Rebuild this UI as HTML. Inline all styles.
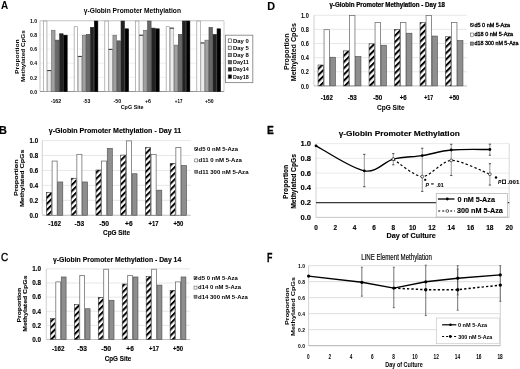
<!DOCTYPE html>
<html><head><meta charset="utf-8"><style>
html,body{margin:0;padding:0;background:#fff;}
body{width:520px;height:369px;overflow:hidden;}
svg{display:block;font-family:"Liberation Sans", sans-serif;filter:blur(0.35px);}
</style></head><body>
<svg width="520" height="369" viewBox="0 0 520 369">
<rect width="520" height="369" fill="#fff"/>
<defs>
<pattern id="hB" patternUnits="userSpaceOnUse" width="4.30" height="4.30" patternTransform="rotate(45)"><rect width="4.30" height="4.30" fill="#fff"/><rect x="0" y="0" width="2.00" height="4.30" fill="#000"/></pattern>
<pattern id="hC" patternUnits="userSpaceOnUse" width="4.30" height="4.30" patternTransform="rotate(45)"><rect width="4.30" height="4.30" fill="#fff"/><rect x="0" y="0" width="2.00" height="4.30" fill="#000"/></pattern>
<pattern id="hD" patternUnits="userSpaceOnUse" width="4.40" height="4.40" patternTransform="rotate(45)"><rect width="4.40" height="4.40" fill="#fff"/><rect x="0" y="0" width="2.05" height="4.40" fill="#000"/></pattern>
<pattern id="hL" patternUnits="userSpaceOnUse" width="2.20" height="2.20" patternTransform="rotate(45)"><rect width="2.20" height="2.20" fill="#fff"/><rect x="0" y="0" width="1.20" height="2.20" fill="#000"/></pattern>
</defs>
<text x="1.00" y="9.20" font-size="10" font-weight="bold" font-style="normal" fill="#000" textLength="7.20" lengthAdjust="spacingAndGlyphs" >A</text>
<text x="83.80" y="12.90" font-size="6.7" font-weight="bold" font-style="normal" fill="#000" textLength="97.20" lengthAdjust="spacingAndGlyphs" >γ-Globin Promoter Methylation</text>
<line x1="40.00" y1="77.35" x2="224.00" y2="77.35" stroke="#e6e6e6" stroke-width="0.6" />
<line x1="40.00" y1="63.20" x2="224.00" y2="63.20" stroke="#e6e6e6" stroke-width="0.6" />
<line x1="40.00" y1="49.05" x2="224.00" y2="49.05" stroke="#e6e6e6" stroke-width="0.6" />
<line x1="40.00" y1="34.90" x2="224.00" y2="34.90" stroke="#e6e6e6" stroke-width="0.6" />
<line x1="40.00" y1="20.75" x2="224.00" y2="20.75" stroke="#bdbdbd" stroke-width="0.9" />
<line x1="40.00" y1="20.75" x2="40.00" y2="91.50" stroke="#bdbdbd" stroke-width="0.9" />
<line x1="224.00" y1="20.75" x2="224.00" y2="91.50" stroke="#c8c8c8" stroke-width="0.9" />
<line x1="40.00" y1="91.50" x2="224.00" y2="91.50" stroke="#888" stroke-width="0.9" />
<text x="29.90" y="93.70" font-size="6.0" font-weight="bold" font-style="normal" fill="#000" textLength="7.10" lengthAdjust="spacingAndGlyphs" >0.0</text>
<text x="29.90" y="79.55" font-size="6.0" font-weight="bold" font-style="normal" fill="#000" textLength="7.10" lengthAdjust="spacingAndGlyphs" >0.2</text>
<text x="29.90" y="65.40" font-size="6.0" font-weight="bold" font-style="normal" fill="#000" textLength="7.10" lengthAdjust="spacingAndGlyphs" >0.4</text>
<text x="29.90" y="51.25" font-size="6.0" font-weight="bold" font-style="normal" fill="#000" textLength="7.10" lengthAdjust="spacingAndGlyphs" >0.6</text>
<text x="29.90" y="37.10" font-size="6.0" font-weight="bold" font-style="normal" fill="#000" textLength="7.10" lengthAdjust="spacingAndGlyphs" >0.8</text>
<text x="29.90" y="22.95" font-size="6.0" font-weight="bold" font-style="normal" fill="#000" textLength="7.10" lengthAdjust="spacingAndGlyphs" >1.0</text>
<text transform="translate(19.39,73.90) rotate(-90)" x="0" y="0" font-size="5.8" font-weight="bold" fill="#000" textLength="34.60" lengthAdjust="spacingAndGlyphs">Proportion</text>
<text transform="translate(24.69,82.00) rotate(-90)" x="0" y="0" font-size="5.8" font-weight="bold" fill="#000" textLength="51.80" lengthAdjust="spacingAndGlyphs">Methylated CpGs</text>
<rect x="43.48" y="21.05" width="3.45" height="70.45" fill="#ffffff" stroke="#8a8a8a" stroke-width="0.6" />
<rect x="47.53" y="70.58" width="3.45" height="20.92" fill="#ececec" stroke="#9a9a9a" stroke-width="0.6" />
<line x1="47.23" y1="70.58" x2="51.28" y2="70.58" stroke="#222" stroke-width="0.9" />
<rect x="51.58" y="30.25" width="3.45" height="61.25" fill="#a0a0a0" stroke="#666" stroke-width="0.6" />
<rect x="55.63" y="40.15" width="3.45" height="51.35" fill="#686868" stroke="#444" stroke-width="0.6" />
<rect x="59.68" y="33.79" width="3.45" height="57.71" fill="#222222" stroke="#222" stroke-width="0.6" />
<rect x="63.73" y="35.20" width="3.45" height="56.30" fill="#000000" stroke="#000" stroke-width="0.6" />
<text x="50.68" y="102.50" font-size="6.0" font-weight="bold" font-style="normal" fill="#000" textLength="10.50" lengthAdjust="spacingAndGlyphs" >-162</text>
<rect x="74.15" y="26.71" width="3.45" height="64.79" fill="#ffffff" stroke="#8a8a8a" stroke-width="0.6" />
<rect x="78.20" y="56.42" width="3.45" height="35.08" fill="#ececec" stroke="#9a9a9a" stroke-width="0.6" />
<line x1="77.90" y1="56.42" x2="81.95" y2="56.42" stroke="#222" stroke-width="0.9" />
<rect x="82.25" y="35.20" width="3.45" height="56.30" fill="#a0a0a0" stroke="#666" stroke-width="0.6" />
<rect x="86.30" y="34.49" width="3.45" height="57.01" fill="#686868" stroke="#444" stroke-width="0.6" />
<rect x="90.35" y="27.42" width="3.45" height="64.08" fill="#222222" stroke="#222" stroke-width="0.6" />
<rect x="94.40" y="21.05" width="3.45" height="70.45" fill="#000000" stroke="#000" stroke-width="0.6" />
<text x="82.90" y="102.50" font-size="6.0" font-weight="bold" font-style="normal" fill="#000" textLength="7.40" lengthAdjust="spacingAndGlyphs" >-53</text>
<rect x="104.82" y="21.05" width="3.45" height="70.45" fill="#ffffff" stroke="#8a8a8a" stroke-width="0.6" />
<rect x="108.87" y="49.35" width="3.45" height="42.15" fill="#ececec" stroke="#9a9a9a" stroke-width="0.6" />
<line x1="108.57" y1="49.35" x2="112.62" y2="49.35" stroke="#222" stroke-width="0.9" />
<rect x="112.92" y="35.20" width="3.45" height="56.30" fill="#a0a0a0" stroke="#666" stroke-width="0.6" />
<rect x="116.97" y="40.86" width="3.45" height="50.64" fill="#686868" stroke="#444" stroke-width="0.6" />
<rect x="121.02" y="21.05" width="3.45" height="70.45" fill="#222222" stroke="#222" stroke-width="0.6" />
<rect x="125.07" y="28.83" width="3.45" height="62.67" fill="#000000" stroke="#000" stroke-width="0.6" />
<text x="113.47" y="102.50" font-size="6.0" font-weight="bold" font-style="normal" fill="#000" textLength="7.60" lengthAdjust="spacingAndGlyphs" >-50</text>
<rect x="135.48" y="21.05" width="3.45" height="70.45" fill="#ffffff" stroke="#8a8a8a" stroke-width="0.6" />
<rect x="139.53" y="35.20" width="3.45" height="56.30" fill="#ececec" stroke="#9a9a9a" stroke-width="0.6" />
<line x1="139.23" y1="35.20" x2="143.28" y2="35.20" stroke="#222" stroke-width="0.9" />
<rect x="143.58" y="30.25" width="3.45" height="61.25" fill="#a0a0a0" stroke="#666" stroke-width="0.6" />
<rect x="147.63" y="21.05" width="3.45" height="70.45" fill="#686868" stroke="#444" stroke-width="0.6" />
<rect x="151.68" y="28.12" width="3.45" height="63.38" fill="#222222" stroke="#222" stroke-width="0.6" />
<rect x="155.73" y="28.83" width="3.45" height="62.67" fill="#000000" stroke="#000" stroke-width="0.6" />
<text x="144.93" y="102.50" font-size="6.0" font-weight="bold" font-style="normal" fill="#000" textLength="6.00" lengthAdjust="spacingAndGlyphs" >+6</text>
<rect x="166.15" y="26.71" width="3.45" height="64.79" fill="#ffffff" stroke="#8a8a8a" stroke-width="0.6" />
<rect x="170.20" y="28.12" width="3.45" height="63.38" fill="#ececec" stroke="#9a9a9a" stroke-width="0.6" />
<line x1="169.90" y1="28.12" x2="173.95" y2="28.12" stroke="#222" stroke-width="0.9" />
<rect x="174.25" y="45.10" width="3.45" height="46.40" fill="#a0a0a0" stroke="#666" stroke-width="0.6" />
<rect x="178.30" y="34.49" width="3.45" height="57.01" fill="#686868" stroke="#444" stroke-width="0.6" />
<rect x="182.35" y="21.05" width="3.45" height="70.45" fill="#222222" stroke="#222" stroke-width="0.6" />
<rect x="186.40" y="21.05" width="3.45" height="70.45" fill="#000000" stroke="#000" stroke-width="0.6" />
<text x="174.80" y="102.50" font-size="6.0" font-weight="bold" font-style="normal" fill="#000" textLength="7.60" lengthAdjust="spacingAndGlyphs" >+17</text>
<rect x="196.82" y="21.05" width="3.45" height="70.45" fill="#ffffff" stroke="#8a8a8a" stroke-width="0.6" />
<rect x="200.87" y="42.98" width="3.45" height="48.52" fill="#ececec" stroke="#9a9a9a" stroke-width="0.6" />
<line x1="200.57" y1="42.98" x2="204.62" y2="42.98" stroke="#222" stroke-width="0.9" />
<rect x="204.92" y="40.15" width="3.45" height="51.35" fill="#a0a0a0" stroke="#666" stroke-width="0.6" />
<rect x="208.97" y="27.42" width="3.45" height="64.08" fill="#686868" stroke="#444" stroke-width="0.6" />
<rect x="213.02" y="34.49" width="3.45" height="57.01" fill="#222222" stroke="#222" stroke-width="0.6" />
<rect x="217.07" y="28.83" width="3.45" height="62.67" fill="#000000" stroke="#000" stroke-width="0.6" />
<text x="204.97" y="102.50" font-size="6.0" font-weight="bold" font-style="normal" fill="#000" textLength="8.60" lengthAdjust="spacingAndGlyphs" >+50</text>
<text x="120.70" y="108.80" font-size="6.0" font-weight="bold" font-style="normal" fill="#000" textLength="22.90" lengthAdjust="spacingAndGlyphs" >CpG Site</text>
<rect x="225.40" y="35.20" width="27.40" height="47.40" fill="#fff" stroke="#888" stroke-width="0.9" />
<rect x="228.20" y="38.90" width="3.40" height="3.40" fill="#ffffff" stroke="#333" stroke-width="0.6" />
<text x="233.00" y="42.60" font-size="5.9" font-weight="bold" font-style="normal" fill="#000" textLength="15.80" lengthAdjust="spacingAndGlyphs" >Day 0</text>
<rect x="228.20" y="46.10" width="3.40" height="3.40" fill="#ececec" stroke="#333" stroke-width="0.6" />
<text x="233.00" y="49.80" font-size="5.9" font-weight="bold" font-style="normal" fill="#000" textLength="15.80" lengthAdjust="spacingAndGlyphs" >Day 5</text>
<rect x="228.20" y="53.30" width="3.40" height="3.40" fill="#a0a0a0" stroke="#333" stroke-width="0.6" />
<text x="233.00" y="57.00" font-size="5.9" font-weight="bold" font-style="normal" fill="#000" textLength="15.80" lengthAdjust="spacingAndGlyphs" >Day 8</text>
<rect x="228.20" y="60.50" width="3.40" height="3.40" fill="#686868" stroke="#333" stroke-width="0.6" />
<text x="233.00" y="64.20" font-size="5.9" font-weight="bold" font-style="normal" fill="#000" textLength="15.80" lengthAdjust="spacingAndGlyphs" >Day11</text>
<rect x="228.20" y="67.70" width="3.40" height="3.40" fill="#222222" stroke="#333" stroke-width="0.6" />
<text x="233.00" y="71.40" font-size="5.9" font-weight="bold" font-style="normal" fill="#000" textLength="15.80" lengthAdjust="spacingAndGlyphs" >Day14</text>
<rect x="228.20" y="74.90" width="3.40" height="3.40" fill="#000000" stroke="#333" stroke-width="0.6" />
<text x="233.00" y="78.60" font-size="5.9" font-weight="bold" font-style="normal" fill="#000" textLength="15.80" lengthAdjust="spacingAndGlyphs" >Day18</text>
<text x="-1.20" y="133.50" font-size="11.7" font-weight="bold" font-style="normal" fill="#000" textLength="8.20" lengthAdjust="spacingAndGlyphs"  stroke="#000" stroke-width="0.2">B</text>
<text x="48.75" y="133.00" font-size="6.8" font-weight="bold" font-style="normal" fill="#000" textLength="132.50" lengthAdjust="spacingAndGlyphs"  stroke="#000" stroke-width="0.12">γ-Globin Promoter Methylation - Day 11</text>
<line x1="42.25" y1="200.32" x2="190.75" y2="200.32" stroke="#dcdcdc" stroke-width="0.7" />
<line x1="42.25" y1="185.39" x2="190.75" y2="185.39" stroke="#dcdcdc" stroke-width="0.7" />
<line x1="42.25" y1="170.46" x2="190.75" y2="170.46" stroke="#dcdcdc" stroke-width="0.7" />
<line x1="42.25" y1="155.53" x2="190.75" y2="155.53" stroke="#dcdcdc" stroke-width="0.7" />
<line x1="42.25" y1="140.60" x2="190.75" y2="140.60" stroke="#dcdcdc" stroke-width="0.7" />
<line x1="42.25" y1="140.60" x2="42.25" y2="215.25" stroke="#c4c4c4" stroke-width="0.8" />
<line x1="42.25" y1="215.25" x2="190.75" y2="215.25" stroke="#b0b0b0" stroke-width="0.8" />
<rect x="46.45" y="192.41" width="5.05" height="22.84" fill="url(#hB)" stroke="#333" stroke-width="0.6" />
<rect x="52.10" y="161.06" width="5.05" height="54.19" fill="#fff" stroke="#6a6a6a" stroke-width="0.75" />
<rect x="57.75" y="181.96" width="5.05" height="33.29" fill="#8e8e8e" stroke="#4a4a4a" stroke-width="0.6" />
<rect x="71.20" y="178.23" width="5.05" height="37.03" fill="url(#hB)" stroke="#333" stroke-width="0.6" />
<rect x="76.85" y="154.34" width="5.05" height="60.91" fill="#fff" stroke="#6a6a6a" stroke-width="0.75" />
<rect x="82.50" y="181.96" width="5.05" height="33.29" fill="#8e8e8e" stroke="#4a4a4a" stroke-width="0.6" />
<rect x="95.95" y="170.01" width="5.05" height="45.24" fill="url(#hB)" stroke="#333" stroke-width="0.6" />
<rect x="101.60" y="161.06" width="5.05" height="54.19" fill="#fff" stroke="#6a6a6a" stroke-width="0.75" />
<rect x="107.25" y="148.37" width="5.05" height="66.89" fill="#8e8e8e" stroke="#4a4a4a" stroke-width="0.6" />
<rect x="120.70" y="155.08" width="5.05" height="60.17" fill="url(#hB)" stroke="#333" stroke-width="0.6" />
<rect x="126.35" y="140.90" width="5.05" height="74.35" fill="#fff" stroke="#6a6a6a" stroke-width="0.75" />
<rect x="132.00" y="173.75" width="5.05" height="41.50" fill="#8e8e8e" stroke="#4a4a4a" stroke-width="0.6" />
<rect x="145.45" y="147.62" width="5.05" height="67.63" fill="url(#hB)" stroke="#333" stroke-width="0.6" />
<rect x="151.10" y="154.34" width="5.05" height="60.91" fill="#fff" stroke="#6a6a6a" stroke-width="0.75" />
<rect x="156.75" y="190.17" width="5.05" height="25.08" fill="#8e8e8e" stroke="#4a4a4a" stroke-width="0.6" />
<rect x="170.20" y="163.30" width="5.05" height="51.96" fill="url(#hB)" stroke="#333" stroke-width="0.6" />
<rect x="175.85" y="147.62" width="5.05" height="67.63" fill="#fff" stroke="#6a6a6a" stroke-width="0.75" />
<rect x="181.50" y="165.53" width="5.05" height="49.72" fill="#8e8e8e" stroke="#4a4a4a" stroke-width="0.6" />
<text x="29.60" y="217.55" font-size="6.4" font-weight="bold" font-style="normal" fill="#000" textLength="8.50" lengthAdjust="spacingAndGlyphs"  stroke="#000" stroke-width="0.12">0.0</text>
<text x="29.60" y="202.62" font-size="6.4" font-weight="bold" font-style="normal" fill="#000" textLength="8.50" lengthAdjust="spacingAndGlyphs"  stroke="#000" stroke-width="0.12">0.2</text>
<text x="29.60" y="187.69" font-size="6.4" font-weight="bold" font-style="normal" fill="#000" textLength="8.50" lengthAdjust="spacingAndGlyphs"  stroke="#000" stroke-width="0.12">0.4</text>
<text x="29.60" y="172.76" font-size="6.4" font-weight="bold" font-style="normal" fill="#000" textLength="8.50" lengthAdjust="spacingAndGlyphs"  stroke="#000" stroke-width="0.12">0.6</text>
<text x="29.60" y="157.83" font-size="6.4" font-weight="bold" font-style="normal" fill="#000" textLength="8.50" lengthAdjust="spacingAndGlyphs"  stroke="#000" stroke-width="0.12">0.8</text>
<text x="29.60" y="142.90" font-size="6.4" font-weight="bold" font-style="normal" fill="#000" textLength="8.50" lengthAdjust="spacingAndGlyphs"  stroke="#000" stroke-width="0.12">1.0</text>
<text transform="translate(18.23,196.10) rotate(-90)" x="0" y="0" font-size="6.2" font-weight="bold" fill="#000" textLength="36.70" lengthAdjust="spacingAndGlyphs" stroke="#000" stroke-width="0.1">Proportion</text>
<text transform="translate(24.43,207.10) rotate(-90)" x="0" y="0" font-size="6.2" font-weight="bold" fill="#000" textLength="57.40" lengthAdjust="spacingAndGlyphs" stroke="#000" stroke-width="0.1">Methylated CpGs</text>
<text x="48.33" y="226.20" font-size="6.4" font-weight="bold" font-style="normal" fill="#000" textLength="12.60" lengthAdjust="spacingAndGlyphs"  stroke="#000" stroke-width="0.12">-162</text>
<text x="74.58" y="226.20" font-size="6.4" font-weight="bold" font-style="normal" fill="#000" textLength="9.60" lengthAdjust="spacingAndGlyphs"  stroke="#000" stroke-width="0.12">-53</text>
<text x="99.22" y="226.20" font-size="6.4" font-weight="bold" font-style="normal" fill="#000" textLength="9.80" lengthAdjust="spacingAndGlyphs"  stroke="#000" stroke-width="0.12">-50</text>
<text x="125.12" y="226.20" font-size="6.4" font-weight="bold" font-style="normal" fill="#000" textLength="7.50" lengthAdjust="spacingAndGlyphs"  stroke="#000" stroke-width="0.12">+6</text>
<text x="148.62" y="226.20" font-size="6.4" font-weight="bold" font-style="normal" fill="#000" textLength="10.00" lengthAdjust="spacingAndGlyphs"  stroke="#000" stroke-width="0.12">+17</text>
<text x="173.38" y="226.20" font-size="6.4" font-weight="bold" font-style="normal" fill="#000" textLength="10.00" lengthAdjust="spacingAndGlyphs"  stroke="#000" stroke-width="0.12">+50</text>
<text x="103.10" y="235.25" font-size="6.6" font-weight="bold" font-style="normal" fill="#000" textLength="26.90" lengthAdjust="spacingAndGlyphs"  stroke="#000" stroke-width="0.12">CpG Site</text>
<rect x="194.75" y="147.70" width="3.00" height="3.00" fill="url(#hL)" stroke="#222" stroke-width="0.5" />
<text x="198.50" y="151.00" font-size="5.4" font-weight="bold" font-style="normal" fill="#000" textLength="39.60" lengthAdjust="spacingAndGlyphs" >d5 0 nM 5-Aza</text>
<rect x="194.75" y="158.95" width="3.00" height="3.00" fill="#fff" stroke="#444" stroke-width="0.5" />
<text x="198.50" y="162.25" font-size="5.4" font-weight="bold" font-style="normal" fill="#000" textLength="43.40" lengthAdjust="spacingAndGlyphs" >d11 0 nM 5-Aza</text>
<rect x="194.75" y="170.20" width="3.00" height="3.00" fill="#8e8e8e" stroke="#333" stroke-width="0.5" />
<text x="198.50" y="173.50" font-size="5.4" font-weight="bold" font-style="normal" fill="#000" textLength="50.00" lengthAdjust="spacingAndGlyphs" >d11 300 nM 5-Aza</text>
<text x="0.90" y="261.20" font-size="11.2" font-weight="normal" font-style="normal" fill="#000" textLength="7.20" lengthAdjust="spacingAndGlyphs"  stroke="#000" stroke-width="0.35">C</text>
<text x="53.00" y="262.25" font-size="6.8" font-weight="bold" font-style="normal" fill="#000" textLength="128.25" lengthAdjust="spacingAndGlyphs"  stroke="#000" stroke-width="0.12">γ-Globin Promoter Methylation - Day 14</text>
<line x1="46.25" y1="325.38" x2="190.00" y2="325.38" stroke="#dcdcdc" stroke-width="0.7" />
<line x1="46.25" y1="311.26" x2="190.00" y2="311.26" stroke="#dcdcdc" stroke-width="0.7" />
<line x1="46.25" y1="297.14" x2="190.00" y2="297.14" stroke="#dcdcdc" stroke-width="0.7" />
<line x1="46.25" y1="283.02" x2="190.00" y2="283.02" stroke="#dcdcdc" stroke-width="0.7" />
<line x1="46.25" y1="268.90" x2="190.00" y2="268.90" stroke="#dcdcdc" stroke-width="0.7" />
<line x1="46.25" y1="268.90" x2="46.25" y2="339.50" stroke="#c4c4c4" stroke-width="0.8" />
<line x1="46.25" y1="339.50" x2="190.00" y2="339.50" stroke="#b0b0b0" stroke-width="0.8" />
<rect x="50.35" y="318.62" width="4.85" height="20.88" fill="url(#hC)" stroke="#333" stroke-width="0.6" />
<rect x="55.80" y="281.91" width="4.85" height="57.59" fill="#fff" stroke="#6a6a6a" stroke-width="0.75" />
<rect x="61.25" y="276.97" width="4.85" height="62.53" fill="#8e8e8e" stroke="#4a4a4a" stroke-width="0.6" />
<rect x="74.31" y="304.50" width="4.85" height="35.00" fill="url(#hC)" stroke="#333" stroke-width="0.6" />
<rect x="79.76" y="275.55" width="4.85" height="63.95" fill="#fff" stroke="#6a6a6a" stroke-width="0.75" />
<rect x="85.21" y="308.74" width="4.85" height="30.76" fill="#8e8e8e" stroke="#4a4a4a" stroke-width="0.6" />
<rect x="98.27" y="297.44" width="4.85" height="42.06" fill="url(#hC)" stroke="#333" stroke-width="0.6" />
<rect x="103.72" y="269.20" width="4.85" height="70.30" fill="#fff" stroke="#6a6a6a" stroke-width="0.75" />
<rect x="109.17" y="300.26" width="4.85" height="39.24" fill="#8e8e8e" stroke="#4a4a4a" stroke-width="0.6" />
<rect x="122.23" y="284.03" width="4.85" height="55.47" fill="url(#hC)" stroke="#333" stroke-width="0.6" />
<rect x="127.68" y="275.55" width="4.85" height="63.95" fill="#fff" stroke="#6a6a6a" stroke-width="0.75" />
<rect x="133.13" y="276.97" width="4.85" height="62.53" fill="#8e8e8e" stroke="#4a4a4a" stroke-width="0.6" />
<rect x="146.19" y="276.61" width="4.85" height="62.89" fill="url(#hC)" stroke="#333" stroke-width="0.6" />
<rect x="151.64" y="269.20" width="4.85" height="70.30" fill="#fff" stroke="#6a6a6a" stroke-width="0.75" />
<rect x="157.09" y="285.08" width="4.85" height="54.42" fill="#8e8e8e" stroke="#4a4a4a" stroke-width="0.6" />
<rect x="170.15" y="290.38" width="4.85" height="49.12" fill="url(#hC)" stroke="#333" stroke-width="0.6" />
<rect x="175.60" y="281.91" width="4.85" height="57.59" fill="#fff" stroke="#6a6a6a" stroke-width="0.75" />
<rect x="181.05" y="276.97" width="4.85" height="62.53" fill="#8e8e8e" stroke="#4a4a4a" stroke-width="0.6" />
<text x="32.20" y="341.80" font-size="6.4" font-weight="bold" font-style="normal" fill="#000" textLength="8.80" lengthAdjust="spacingAndGlyphs"  stroke="#000" stroke-width="0.12">0.0</text>
<text x="32.20" y="327.68" font-size="6.4" font-weight="bold" font-style="normal" fill="#000" textLength="8.80" lengthAdjust="spacingAndGlyphs"  stroke="#000" stroke-width="0.12">0.2</text>
<text x="32.20" y="313.56" font-size="6.4" font-weight="bold" font-style="normal" fill="#000" textLength="8.80" lengthAdjust="spacingAndGlyphs"  stroke="#000" stroke-width="0.12">0.4</text>
<text x="32.20" y="299.44" font-size="6.4" font-weight="bold" font-style="normal" fill="#000" textLength="8.80" lengthAdjust="spacingAndGlyphs"  stroke="#000" stroke-width="0.12">0.6</text>
<text x="32.20" y="285.32" font-size="6.4" font-weight="bold" font-style="normal" fill="#000" textLength="8.80" lengthAdjust="spacingAndGlyphs"  stroke="#000" stroke-width="0.12">0.8</text>
<text x="32.20" y="271.20" font-size="6.4" font-weight="bold" font-style="normal" fill="#000" textLength="8.80" lengthAdjust="spacingAndGlyphs"  stroke="#000" stroke-width="0.12">1.0</text>
<text transform="translate(21.33,322.40) rotate(-90)" x="0" y="0" font-size="6.2" font-weight="bold" fill="#000" textLength="34.50" lengthAdjust="spacingAndGlyphs" stroke="#000" stroke-width="0.1">Proportion</text>
<text transform="translate(27.03,331.80) rotate(-90)" x="0" y="0" font-size="6.2" font-weight="bold" fill="#000" textLength="56.30" lengthAdjust="spacingAndGlyphs" stroke="#000" stroke-width="0.1">Methylated CpGs</text>
<text x="51.93" y="351.00" font-size="6.4" font-weight="bold" font-style="normal" fill="#000" textLength="12.60" lengthAdjust="spacingAndGlyphs"  stroke="#000" stroke-width="0.12">-162</text>
<text x="77.39" y="351.00" font-size="6.4" font-weight="bold" font-style="normal" fill="#000" textLength="9.60" lengthAdjust="spacingAndGlyphs"  stroke="#000" stroke-width="0.12">-53</text>
<text x="101.15" y="351.00" font-size="6.4" font-weight="bold" font-style="normal" fill="#000" textLength="10.00" lengthAdjust="spacingAndGlyphs"  stroke="#000" stroke-width="0.12">-50</text>
<text x="126.35" y="351.00" font-size="6.4" font-weight="bold" font-style="normal" fill="#000" textLength="7.50" lengthAdjust="spacingAndGlyphs"  stroke="#000" stroke-width="0.12">+6</text>
<text x="149.06" y="351.00" font-size="6.4" font-weight="bold" font-style="normal" fill="#000" textLength="10.00" lengthAdjust="spacingAndGlyphs"  stroke="#000" stroke-width="0.12">+17</text>
<text x="173.02" y="351.00" font-size="6.4" font-weight="bold" font-style="normal" fill="#000" textLength="10.00" lengthAdjust="spacingAndGlyphs"  stroke="#000" stroke-width="0.12">+50</text>
<text x="104.75" y="360.50" font-size="6.6" font-weight="bold" font-style="normal" fill="#000" textLength="26.50" lengthAdjust="spacingAndGlyphs"  stroke="#000" stroke-width="0.12">CpG Site</text>
<rect x="194.00" y="276.70" width="3.00" height="3.00" fill="url(#hL)" stroke="#222" stroke-width="0.5" />
<text x="198.10" y="280.00" font-size="5.4" font-weight="bold" font-style="normal" fill="#000" textLength="39.65" lengthAdjust="spacingAndGlyphs" >d5 0 nM 5-Aza</text>
<rect x="194.00" y="286.10" width="3.00" height="3.00" fill="#fff" stroke="#444" stroke-width="0.5" />
<text x="198.10" y="289.40" font-size="5.4" font-weight="bold" font-style="normal" fill="#000" textLength="42.90" lengthAdjust="spacingAndGlyphs" >d14 0 nM 5-Aza</text>
<rect x="194.00" y="295.20" width="3.00" height="3.00" fill="#8e8e8e" stroke="#333" stroke-width="0.5" />
<text x="198.10" y="298.50" font-size="5.4" font-weight="bold" font-style="normal" fill="#000" textLength="49.65" lengthAdjust="spacingAndGlyphs" >d14 300 nM 5-Aza</text>
<text x="267.20" y="9.60" font-size="11.2" font-weight="bold" font-style="normal" fill="#000" textLength="7.80" lengthAdjust="spacingAndGlyphs"  stroke="#000" stroke-width="0.15">D</text>
<text x="329.40" y="6.80" font-size="6.5" font-weight="bold" font-style="normal" fill="#000" textLength="115.60" lengthAdjust="spacingAndGlyphs"  stroke="#000" stroke-width="0.22">γ-Globin Promoter Methylation - Day 18</text>
<line x1="314.00" y1="71.77" x2="467.00" y2="71.77" stroke="#dcdcdc" stroke-width="0.7" />
<line x1="314.00" y1="57.64" x2="467.00" y2="57.64" stroke="#dcdcdc" stroke-width="0.7" />
<line x1="314.00" y1="43.51" x2="467.00" y2="43.51" stroke="#dcdcdc" stroke-width="0.7" />
<line x1="314.00" y1="29.38" x2="467.00" y2="29.38" stroke="#dcdcdc" stroke-width="0.7" />
<line x1="314.00" y1="15.25" x2="467.00" y2="15.25" stroke="#dcdcdc" stroke-width="0.7" />
<line x1="314.00" y1="15.25" x2="314.00" y2="85.90" stroke="#c4c4c4" stroke-width="0.8" />
<line x1="314.00" y1="85.90" x2="467.00" y2="85.90" stroke="#b0b0b0" stroke-width="0.8" />
<rect x="318.05" y="65.01" width="5.40" height="20.89" fill="url(#hD)" stroke="#333" stroke-width="0.6" />
<rect x="324.05" y="29.68" width="5.40" height="56.22" fill="#fff" stroke="#6a6a6a" stroke-width="0.75" />
<rect x="330.05" y="57.23" width="5.40" height="28.67" fill="#8e8e8e" stroke="#4a4a4a" stroke-width="0.6" />
<rect x="343.55" y="50.88" width="5.40" height="35.03" fill="url(#hD)" stroke="#333" stroke-width="0.6" />
<rect x="349.55" y="15.55" width="5.40" height="70.35" fill="#fff" stroke="#6a6a6a" stroke-width="0.75" />
<rect x="355.55" y="56.53" width="5.40" height="29.37" fill="#8e8e8e" stroke="#4a4a4a" stroke-width="0.6" />
<rect x="369.05" y="43.81" width="5.40" height="42.09" fill="url(#hD)" stroke="#333" stroke-width="0.6" />
<rect x="375.05" y="22.61" width="5.40" height="63.29" fill="#fff" stroke="#6a6a6a" stroke-width="0.75" />
<rect x="381.05" y="45.22" width="5.40" height="40.68" fill="#8e8e8e" stroke="#4a4a4a" stroke-width="0.6" />
<rect x="394.55" y="29.68" width="5.40" height="56.22" fill="url(#hD)" stroke="#333" stroke-width="0.6" />
<rect x="400.55" y="22.61" width="5.40" height="63.29" fill="#fff" stroke="#6a6a6a" stroke-width="0.75" />
<rect x="406.55" y="33.21" width="5.40" height="52.69" fill="#8e8e8e" stroke="#4a4a4a" stroke-width="0.6" />
<rect x="420.05" y="22.61" width="5.40" height="63.29" fill="url(#hD)" stroke="#333" stroke-width="0.6" />
<rect x="426.05" y="15.55" width="5.40" height="70.35" fill="#fff" stroke="#6a6a6a" stroke-width="0.75" />
<rect x="432.05" y="36.04" width="5.40" height="49.86" fill="#8e8e8e" stroke="#4a4a4a" stroke-width="0.6" />
<rect x="445.55" y="36.75" width="5.40" height="49.16" fill="url(#hD)" stroke="#333" stroke-width="0.6" />
<rect x="451.55" y="22.61" width="5.40" height="63.29" fill="#fff" stroke="#6a6a6a" stroke-width="0.75" />
<rect x="457.55" y="40.63" width="5.40" height="45.27" fill="#8e8e8e" stroke="#4a4a4a" stroke-width="0.6" />
<text x="301.00" y="88.50" font-size="6.4" font-weight="bold" font-style="normal" fill="#000" textLength="7.80" lengthAdjust="spacingAndGlyphs" >0.0</text>
<text x="301.00" y="74.37" font-size="6.4" font-weight="bold" font-style="normal" fill="#000" textLength="7.80" lengthAdjust="spacingAndGlyphs" >0.2</text>
<text x="301.00" y="60.24" font-size="6.4" font-weight="bold" font-style="normal" fill="#000" textLength="7.80" lengthAdjust="spacingAndGlyphs" >0.4</text>
<text x="301.00" y="46.11" font-size="6.4" font-weight="bold" font-style="normal" fill="#000" textLength="7.80" lengthAdjust="spacingAndGlyphs" >0.6</text>
<text x="301.00" y="31.98" font-size="6.4" font-weight="bold" font-style="normal" fill="#000" textLength="7.80" lengthAdjust="spacingAndGlyphs" >0.8</text>
<text x="301.00" y="17.85" font-size="6.4" font-weight="bold" font-style="normal" fill="#000" textLength="7.80" lengthAdjust="spacingAndGlyphs" >1.0</text>
<text transform="translate(289.44,69.90) rotate(-90)" x="0" y="0" font-size="6.5" font-weight="bold" fill="#000" textLength="36.40" lengthAdjust="spacingAndGlyphs">Proportion</text>
<text transform="translate(295.64,81.30) rotate(-90)" x="0" y="0" font-size="6.5" font-weight="bold" fill="#000" textLength="58.30" lengthAdjust="spacingAndGlyphs">Methylated CpGs</text>
<text x="320.65" y="99.80" font-size="6.6" font-weight="bold" font-style="normal" fill="#000" textLength="12.20" lengthAdjust="spacingAndGlyphs"  stroke="#000" stroke-width="0.15">-162</text>
<text x="347.75" y="99.80" font-size="6.6" font-weight="bold" font-style="normal" fill="#000" textLength="9.00" lengthAdjust="spacingAndGlyphs"  stroke="#000" stroke-width="0.15">-53</text>
<text x="373.25" y="99.80" font-size="6.6" font-weight="bold" font-style="normal" fill="#000" textLength="9.00" lengthAdjust="spacingAndGlyphs"  stroke="#000" stroke-width="0.15">-50</text>
<text x="399.75" y="99.80" font-size="6.6" font-weight="bold" font-style="normal" fill="#000" textLength="7.00" lengthAdjust="spacingAndGlyphs"  stroke="#000" stroke-width="0.15">+6</text>
<text x="424.35" y="99.80" font-size="6.6" font-weight="bold" font-style="normal" fill="#000" textLength="8.80" lengthAdjust="spacingAndGlyphs"  stroke="#000" stroke-width="0.15">+17</text>
<text x="449.25" y="99.80" font-size="6.6" font-weight="bold" font-style="normal" fill="#000" textLength="10.00" lengthAdjust="spacingAndGlyphs"  stroke="#000" stroke-width="0.15">+50</text>
<text x="377.00" y="110.00" font-size="6.8" font-weight="bold" font-style="normal" fill="#000" textLength="27.50" lengthAdjust="spacingAndGlyphs"  stroke="#000" stroke-width="0.05">CpG Site</text>
<rect x="470.30" y="23.50" width="3.20" height="3.20" fill="url(#hL)" stroke="#222" stroke-width="0.5" />
<text x="474.50" y="26.80" font-size="5.0" font-weight="normal" font-style="normal" fill="#000" textLength="35.50" lengthAdjust="spacingAndGlyphs"  stroke="#000" stroke-width="0.3">d5 0 nM 5-Aza</text>
<rect x="470.30" y="33.00" width="3.20" height="3.20" fill="#fff" stroke="#444" stroke-width="0.5" />
<text x="474.50" y="36.30" font-size="5.0" font-weight="normal" font-style="normal" fill="#000" textLength="38.60" lengthAdjust="spacingAndGlyphs"  stroke="#000" stroke-width="0.3">d18 0 nM 5-Aza</text>
<rect x="470.30" y="42.00" width="3.20" height="3.20" fill="#8e8e8e" stroke="#333" stroke-width="0.5" />
<text x="474.50" y="45.30" font-size="5.0" font-weight="normal" font-style="normal" fill="#000" textLength="43.90" lengthAdjust="spacingAndGlyphs"  stroke="#000" stroke-width="0.3">d18 300 nM 5-Aza</text>
<text x="267.10" y="133.90" font-size="11.8" font-weight="bold" font-style="normal" fill="#000" textLength="6.80" lengthAdjust="spacingAndGlyphs"  stroke="#000" stroke-width="0.3">E</text>
<text x="338.75" y="136.00" font-size="6.8" font-weight="bold" font-style="normal" fill="#000" textLength="121.05" lengthAdjust="spacingAndGlyphs"  stroke="#000" stroke-width="0.12">γ-Globin Promoter Methylation</text>
<line x1="316.00" y1="202.64" x2="509.20" y2="202.64" stroke="#e2e2e2" stroke-width="0.7" />
<line x1="316.00" y1="187.88" x2="509.20" y2="187.88" stroke="#e2e2e2" stroke-width="0.7" />
<line x1="316.00" y1="173.12" x2="509.20" y2="173.12" stroke="#e2e2e2" stroke-width="0.7" />
<line x1="316.00" y1="158.36" x2="509.20" y2="158.36" stroke="#e2e2e2" stroke-width="0.7" />
<line x1="316.00" y1="143.60" x2="509.20" y2="143.60" stroke="#e2e2e2" stroke-width="0.7" />
<line x1="316.00" y1="143.60" x2="316.00" y2="217.40" stroke="#c4c4c4" stroke-width="0.8" />
<line x1="509.20" y1="143.60" x2="509.20" y2="217.40" stroke="#d0d0d0" stroke-width="0.8" />
<line x1="316.00" y1="217.40" x2="509.20" y2="217.40" stroke="#b8b8b8" stroke-width="0.8" />
<line x1="316.00" y1="202.64" x2="509.20" y2="202.64" stroke="#3a3a3a" stroke-width="1.1" />
<text x="300.40" y="219.80" font-size="6.6" font-weight="bold" font-style="normal" fill="#000" textLength="10.60" lengthAdjust="spacingAndGlyphs"  stroke="#000" stroke-width="0.12">0.0</text>
<text x="300.40" y="205.04" font-size="6.6" font-weight="bold" font-style="normal" fill="#000" textLength="10.60" lengthAdjust="spacingAndGlyphs"  stroke="#000" stroke-width="0.12">0.2</text>
<text x="300.40" y="190.28" font-size="6.6" font-weight="bold" font-style="normal" fill="#000" textLength="10.60" lengthAdjust="spacingAndGlyphs"  stroke="#000" stroke-width="0.12">0.4</text>
<text x="300.40" y="175.52" font-size="6.6" font-weight="bold" font-style="normal" fill="#000" textLength="10.60" lengthAdjust="spacingAndGlyphs"  stroke="#000" stroke-width="0.12">0.6</text>
<text x="300.40" y="160.76" font-size="6.6" font-weight="bold" font-style="normal" fill="#000" textLength="10.60" lengthAdjust="spacingAndGlyphs"  stroke="#000" stroke-width="0.12">0.8</text>
<text x="300.40" y="146.00" font-size="6.6" font-weight="bold" font-style="normal" fill="#000" textLength="10.60" lengthAdjust="spacingAndGlyphs"  stroke="#000" stroke-width="0.12">1.0</text>
<text transform="translate(287.90,198.90) rotate(-90)" x="0" y="0" font-size="6.4" font-weight="bold" fill="#000" textLength="34.00" lengthAdjust="spacingAndGlyphs" stroke="#000" stroke-width="0.1">Proportion</text>
<text transform="translate(296.10,208.80) rotate(-90)" x="0" y="0" font-size="6.4" font-weight="bold" fill="#000" textLength="54.80" lengthAdjust="spacingAndGlyphs" stroke="#000" stroke-width="0.1">Methylated CpGs</text>
<text x="314.20" y="229.80" font-size="6.5" font-weight="bold" font-style="normal" fill="#000" textLength="3.60" lengthAdjust="spacingAndGlyphs"  stroke="#000" stroke-width="0.12">0</text>
<text x="333.52" y="229.80" font-size="6.5" font-weight="bold" font-style="normal" fill="#000" textLength="3.60" lengthAdjust="spacingAndGlyphs"  stroke="#000" stroke-width="0.12">2</text>
<text x="352.84" y="229.80" font-size="6.5" font-weight="bold" font-style="normal" fill="#000" textLength="3.60" lengthAdjust="spacingAndGlyphs"  stroke="#000" stroke-width="0.12">4</text>
<text x="372.16" y="229.80" font-size="6.5" font-weight="bold" font-style="normal" fill="#000" textLength="3.60" lengthAdjust="spacingAndGlyphs"  stroke="#000" stroke-width="0.12">6</text>
<text x="391.48" y="229.80" font-size="6.5" font-weight="bold" font-style="normal" fill="#000" textLength="3.60" lengthAdjust="spacingAndGlyphs"  stroke="#000" stroke-width="0.12">8</text>
<text x="408.90" y="229.80" font-size="6.5" font-weight="bold" font-style="normal" fill="#000" textLength="7.40" lengthAdjust="spacingAndGlyphs"  stroke="#000" stroke-width="0.12">10</text>
<text x="428.22" y="229.80" font-size="6.5" font-weight="bold" font-style="normal" fill="#000" textLength="7.40" lengthAdjust="spacingAndGlyphs"  stroke="#000" stroke-width="0.12">12</text>
<text x="447.54" y="229.80" font-size="6.5" font-weight="bold" font-style="normal" fill="#000" textLength="7.40" lengthAdjust="spacingAndGlyphs"  stroke="#000" stroke-width="0.12">14</text>
<text x="466.86" y="229.80" font-size="6.5" font-weight="bold" font-style="normal" fill="#000" textLength="7.40" lengthAdjust="spacingAndGlyphs"  stroke="#000" stroke-width="0.12">16</text>
<text x="486.18" y="229.80" font-size="6.5" font-weight="bold" font-style="normal" fill="#000" textLength="7.40" lengthAdjust="spacingAndGlyphs"  stroke="#000" stroke-width="0.12">18</text>
<text x="505.50" y="229.80" font-size="6.5" font-weight="bold" font-style="normal" fill="#000" textLength="7.40" lengthAdjust="spacingAndGlyphs"  stroke="#000" stroke-width="0.12">20</text>
<text x="386.50" y="238.00" font-size="6.6" font-weight="bold" font-style="normal" fill="#000" textLength="49.25" lengthAdjust="spacingAndGlyphs"  stroke="#000" stroke-width="0.12">Day of Culture</text>
<line x1="364.30" y1="154.40" x2="364.30" y2="186.70" stroke="#7c7c7c" stroke-width="0.8" />
<line x1="363.20" y1="154.40" x2="365.40" y2="154.40" stroke="#555" stroke-width="1.1" />
<line x1="363.20" y1="186.70" x2="365.40" y2="186.70" stroke="#555" stroke-width="1.1" />
<line x1="393.28" y1="153.60" x2="393.28" y2="164.80" stroke="#7c7c7c" stroke-width="0.8" />
<line x1="392.18" y1="153.60" x2="394.38" y2="153.60" stroke="#555" stroke-width="1.1" />
<line x1="392.18" y1="164.80" x2="394.38" y2="164.80" stroke="#555" stroke-width="1.1" />
<line x1="422.26" y1="148.30" x2="422.26" y2="191.40" stroke="#7c7c7c" stroke-width="0.8" />
<line x1="421.16" y1="148.30" x2="423.36" y2="148.30" stroke="#555" stroke-width="1.1" />
<line x1="421.16" y1="191.40" x2="423.36" y2="191.40" stroke="#555" stroke-width="1.1" />
<line x1="451.24" y1="144.30" x2="451.24" y2="175.50" stroke="#7c7c7c" stroke-width="0.8" />
<line x1="450.14" y1="144.30" x2="452.34" y2="144.30" stroke="#555" stroke-width="1.1" />
<line x1="450.14" y1="175.50" x2="452.34" y2="175.50" stroke="#555" stroke-width="1.1" />
<line x1="489.88" y1="144.20" x2="489.88" y2="155.20" stroke="#7c7c7c" stroke-width="0.8" />
<line x1="488.78" y1="144.20" x2="490.98" y2="144.20" stroke="#555" stroke-width="1.1" />
<line x1="488.78" y1="155.20" x2="490.98" y2="155.20" stroke="#555" stroke-width="1.1" />
<line x1="489.88" y1="163.70" x2="489.88" y2="185.00" stroke="#7c7c7c" stroke-width="0.8" />
<line x1="488.78" y1="163.70" x2="490.98" y2="163.70" stroke="#555" stroke-width="1.1" />
<line x1="488.78" y1="185.00" x2="490.98" y2="185.00" stroke="#555" stroke-width="1.1" />
<path d="M316.00,145.80 C324.05,149.97 351.42,168.58 364.30,170.80 C377.18,173.02 383.62,161.63 393.28,159.10 C402.94,156.57 412.60,157.12 422.26,155.60 C431.92,154.08 439.97,151.02 451.24,150.00 C462.51,148.98 483.44,149.58 489.88,149.50" fill="none" stroke="#000" stroke-width="1.35"/>
<path d="M393.28,159.10 C397.34,161.55 414.15,176.42 422.26,176.60 C430.37,176.78 441.77,160.74 451.24,160.40 C460.71,160.06 484.47,172.27 489.88,174.20" fill="none" stroke="#000" stroke-width="1.2" stroke-dasharray="2.4,2.2"/>
<circle cx="316.00" cy="145.80" r="1.4" fill="#000"/>
<circle cx="364.30" cy="170.80" r="1.4" fill="#000"/>
<circle cx="393.28" cy="159.10" r="1.4" fill="#000"/>
<circle cx="422.26" cy="155.60" r="1.4" fill="#000"/>
<circle cx="451.24" cy="150.00" r="1.4" fill="#000"/>
<circle cx="489.88" cy="149.50" r="1.4" fill="#000"/>
<circle cx="393.28" cy="159.10" r="1.4" fill="#fff" stroke="#000" stroke-width="0.6"/>
<circle cx="422.26" cy="176.60" r="1.4" fill="#fff" stroke="#000" stroke-width="0.6"/>
<circle cx="451.24" cy="160.40" r="1.4" fill="#fff" stroke="#000" stroke-width="0.6"/>
<circle cx="489.88" cy="174.20" r="1.4" fill="#fff" stroke="#000" stroke-width="0.6"/>
<circle cx="425.2" cy="179.8" r="1.15" fill="#000"/>
<text x="425.60" y="186.70" font-size="5.8" font-weight="bold" font-style="italic" fill="#000" textLength="3.40" lengthAdjust="spacingAndGlyphs"  stroke="#000" stroke-width="0.1">P</text>
<text x="431.00" y="186.00" font-size="6.0" font-weight="bold" font-style="normal" fill="#000" textLength="2.80" lengthAdjust="spacingAndGlyphs"  stroke="#000" stroke-width="0.1">=</text>
<text x="436.40" y="186.70" font-size="5.8" font-weight="bold" font-style="normal" fill="#000" textLength="7.30" lengthAdjust="spacingAndGlyphs"  stroke="#000" stroke-width="0.1">.01</text>
<circle cx="496.0" cy="177.5" r="1.2" fill="#000"/>
<text x="498.00" y="183.70" font-size="5.2" font-weight="bold" font-style="italic" fill="#000" textLength="3.30" lengthAdjust="spacingAndGlyphs"  stroke="#000" stroke-width="0.1">P</text>
<rect x="502.40" y="180.00" width="3.20" height="3.60" fill="none" stroke="#000" stroke-width="0.8" />
<text x="507.40" y="183.70" font-size="5.3" font-weight="bold" font-style="normal" fill="#000" textLength="11.90" lengthAdjust="spacingAndGlyphs"  stroke="#000" stroke-width="0.12">.001</text>
<rect x="436.25" y="193.50" width="71.20" height="23.50" fill="#fff" stroke="#b0b0b0" stroke-width="0.7" />
<line x1="437.90" y1="199.00" x2="454.50" y2="199.00" stroke="#000" stroke-width="1.3" />
<circle cx="447.3" cy="199.0" r="1.4" fill="#000"/>
<text x="457.40" y="201.50" font-size="6.4" font-weight="bold" font-style="normal" fill="#000" textLength="37.50" lengthAdjust="spacingAndGlyphs"  stroke="#000" stroke-width="0.12">0 nM 5-Aza</text>
<line x1="438.20" y1="211.00" x2="455.00" y2="211.00" stroke="#000" stroke-width="1.2" stroke-dasharray="2,2"/>
<circle cx="447.3" cy="211.0" r="1.4" fill="#fff" stroke="#000" stroke-width="0.6"/>
<text x="456.90" y="212.80" font-size="6.4" font-weight="bold" font-style="normal" fill="#000" textLength="45.90" lengthAdjust="spacingAndGlyphs"  stroke="#000" stroke-width="0.12">300 nM 5-Aza</text>
<text x="266.90" y="261.50" font-size="12.0" font-weight="bold" font-style="normal" fill="#000" textLength="5.40" lengthAdjust="spacingAndGlyphs"  stroke="#000" stroke-width="0.3">F</text>
<text x="361.20" y="259.90" font-size="8.6" font-weight="normal" font-style="normal" fill="#000" textLength="70.60" lengthAdjust="spacingAndGlyphs"  stroke="#000" stroke-width="0.15">LINE Element Methylation</text>
<line x1="308.60" y1="329.70" x2="500.30" y2="329.70" stroke="#d4d4d4" stroke-width="0.8" />
<line x1="308.60" y1="313.70" x2="500.30" y2="313.70" stroke="#d4d4d4" stroke-width="0.8" />
<line x1="308.60" y1="297.70" x2="500.30" y2="297.70" stroke="#d4d4d4" stroke-width="0.8" />
<line x1="308.60" y1="281.70" x2="500.30" y2="281.70" stroke="#d4d4d4" stroke-width="0.8" />
<line x1="308.60" y1="265.70" x2="500.30" y2="265.70" stroke="#d4d4d4" stroke-width="0.8" />
<line x1="308.60" y1="345.70" x2="500.30" y2="345.70" stroke="#a8a8a8" stroke-width="0.9" />
<line x1="308.60" y1="265.70" x2="308.60" y2="345.70" stroke="#c4c4c4" stroke-width="0.8" />
<line x1="500.30" y1="265.70" x2="500.30" y2="345.70" stroke="#c4c4c4" stroke-width="0.8" />
<text x="298.10" y="347.70" font-size="5.6" font-weight="bold" font-style="normal" fill="#000" textLength="6.90" lengthAdjust="spacingAndGlyphs" >0.0</text>
<text x="298.10" y="331.70" font-size="5.6" font-weight="bold" font-style="normal" fill="#000" textLength="6.90" lengthAdjust="spacingAndGlyphs" >0.2</text>
<text x="298.10" y="315.70" font-size="5.6" font-weight="bold" font-style="normal" fill="#000" textLength="6.90" lengthAdjust="spacingAndGlyphs" >0.4</text>
<text x="298.10" y="299.70" font-size="5.6" font-weight="bold" font-style="normal" fill="#000" textLength="6.90" lengthAdjust="spacingAndGlyphs" >0.6</text>
<text x="298.10" y="283.70" font-size="5.6" font-weight="bold" font-style="normal" fill="#000" textLength="6.90" lengthAdjust="spacingAndGlyphs" >0.8</text>
<text x="298.10" y="267.70" font-size="5.6" font-weight="bold" font-style="normal" fill="#000" textLength="6.90" lengthAdjust="spacingAndGlyphs" >1.0</text>
<text transform="translate(288.63,325.00) rotate(-90)" x="0" y="0" font-size="6.2" font-weight="bold" fill="#000" textLength="37.10" lengthAdjust="spacingAndGlyphs">Proportion</text>
<text transform="translate(295.13,335.90) rotate(-90)" x="0" y="0" font-size="6.2" font-weight="bold" fill="#000" textLength="58.90" lengthAdjust="spacingAndGlyphs">Methylated CpGs</text>
<text x="307.10" y="359.20" font-size="6.4" font-weight="bold" font-style="normal" fill="#000" textLength="2.60" lengthAdjust="spacingAndGlyphs" >0</text>
<text x="328.40" y="359.20" font-size="6.4" font-weight="bold" font-style="normal" fill="#000" textLength="2.60" lengthAdjust="spacingAndGlyphs" >2</text>
<text x="349.70" y="359.20" font-size="6.4" font-weight="bold" font-style="normal" fill="#000" textLength="2.60" lengthAdjust="spacingAndGlyphs" >4</text>
<text x="371.00" y="359.20" font-size="6.4" font-weight="bold" font-style="normal" fill="#000" textLength="2.60" lengthAdjust="spacingAndGlyphs" >6</text>
<text x="392.30" y="359.20" font-size="6.4" font-weight="bold" font-style="normal" fill="#000" textLength="2.60" lengthAdjust="spacingAndGlyphs" >8</text>
<text x="412.25" y="359.20" font-size="6.4" font-weight="bold" font-style="normal" fill="#000" textLength="5.30" lengthAdjust="spacingAndGlyphs" >10</text>
<text x="433.55" y="359.20" font-size="6.4" font-weight="bold" font-style="normal" fill="#000" textLength="5.30" lengthAdjust="spacingAndGlyphs" >12</text>
<text x="454.85" y="359.20" font-size="6.4" font-weight="bold" font-style="normal" fill="#000" textLength="5.30" lengthAdjust="spacingAndGlyphs" >14</text>
<text x="476.15" y="359.20" font-size="6.4" font-weight="bold" font-style="normal" fill="#000" textLength="5.30" lengthAdjust="spacingAndGlyphs" >16</text>
<text x="497.45" y="359.20" font-size="6.4" font-weight="bold" font-style="normal" fill="#000" textLength="5.30" lengthAdjust="spacingAndGlyphs" >18</text>
<text x="385.30" y="366.50" font-size="6.4" font-weight="bold" font-style="normal" fill="#000" textLength="37.50" lengthAdjust="spacingAndGlyphs" >Day of Culture</text>
<line x1="361.85" y1="267.30" x2="361.85" y2="296.20" stroke="#5a5a5a" stroke-width="0.85" />
<line x1="360.85" y1="267.30" x2="362.85" y2="267.30" stroke="#5a5a5a" stroke-width="0.85" />
<line x1="360.85" y1="296.20" x2="362.85" y2="296.20" stroke="#5a5a5a" stroke-width="0.85" />
<line x1="393.80" y1="267.30" x2="393.80" y2="307.70" stroke="#5a5a5a" stroke-width="0.85" />
<line x1="392.80" y1="267.30" x2="394.80" y2="267.30" stroke="#5a5a5a" stroke-width="0.85" />
<line x1="392.80" y1="307.70" x2="394.80" y2="307.70" stroke="#5a5a5a" stroke-width="0.85" />
<line x1="425.75" y1="265.20" x2="425.75" y2="315.60" stroke="#5a5a5a" stroke-width="0.85" />
<line x1="424.75" y1="265.20" x2="426.75" y2="265.20" stroke="#5a5a5a" stroke-width="0.85" />
<line x1="424.75" y1="315.60" x2="426.75" y2="315.60" stroke="#5a5a5a" stroke-width="0.85" />
<line x1="457.70" y1="265.70" x2="457.70" y2="310.20" stroke="#5a5a5a" stroke-width="0.85" />
<line x1="456.70" y1="265.70" x2="458.70" y2="265.70" stroke="#5a5a5a" stroke-width="0.85" />
<line x1="456.70" y1="310.20" x2="458.70" y2="310.20" stroke="#5a5a5a" stroke-width="0.85" />
<line x1="457.70" y1="269.20" x2="457.70" y2="294.90" stroke="#5a5a5a" stroke-width="0.85" />
<line x1="456.70" y1="269.20" x2="458.70" y2="269.20" stroke="#5a5a5a" stroke-width="0.85" />
<line x1="456.70" y1="294.90" x2="458.70" y2="294.90" stroke="#5a5a5a" stroke-width="0.85" />
<line x1="500.30" y1="265.70" x2="500.30" y2="301.30" stroke="#5a5a5a" stroke-width="0.85" />
<line x1="499.30" y1="265.70" x2="501.30" y2="265.70" stroke="#5a5a5a" stroke-width="0.85" />
<line x1="499.30" y1="301.30" x2="501.30" y2="301.30" stroke="#5a5a5a" stroke-width="0.85" />
<polyline points="308.60,276.10 361.85,282.30 393.80,288.10 425.75,281.80 457.70,278.20 500.30,274.90" fill="none" stroke="#000" stroke-width="1.45"/>
<polyline points="393.80,288.10 425.75,289.70 457.70,289.70 500.30,285.10" fill="none" stroke="#000" stroke-width="1.45" stroke-dasharray="2.3,2.1"/>
<circle cx="308.60" cy="276.10" r="1.6" fill="#000"/>
<circle cx="361.85" cy="282.30" r="1.6" fill="#000"/>
<circle cx="393.80" cy="288.10" r="1.6" fill="#000"/>
<circle cx="425.75" cy="281.80" r="1.6" fill="#000"/>
<circle cx="457.70" cy="278.20" r="1.6" fill="#000"/>
<circle cx="500.30" cy="274.90" r="1.6" fill="#000"/>
<circle cx="425.75" cy="289.70" r="1.7" fill="#000"/>
<circle cx="457.70" cy="289.70" r="1.7" fill="#000"/>
<circle cx="500.30" cy="285.10" r="1.7" fill="#000"/>
<rect x="436.30" y="318.00" width="63.10" height="25.70" fill="#fff" stroke="#c8c8c8" stroke-width="0.7" />
<line x1="442.10" y1="324.80" x2="456.30" y2="324.80" stroke="#000" stroke-width="1.2" />
<circle cx="450.5" cy="324.8" r="1.3" fill="#000"/>
<text x="457.90" y="327.30" font-size="6.0" font-weight="bold" font-style="normal" fill="#000" textLength="29.30" lengthAdjust="spacingAndGlyphs" >0 nM 5-Aza</text>
<line x1="442.10" y1="336.50" x2="457.00" y2="336.50" stroke="#000" stroke-width="1.2" stroke-dasharray="2,2"/>
<circle cx="450.3" cy="336.5" r="1.4" fill="#000"/>
<text x="458.20" y="339.20" font-size="6.0" font-weight="bold" font-style="normal" fill="#000" textLength="34.10" lengthAdjust="spacingAndGlyphs" >300 nM 5-Aza</text>
</svg>
</body></html>
